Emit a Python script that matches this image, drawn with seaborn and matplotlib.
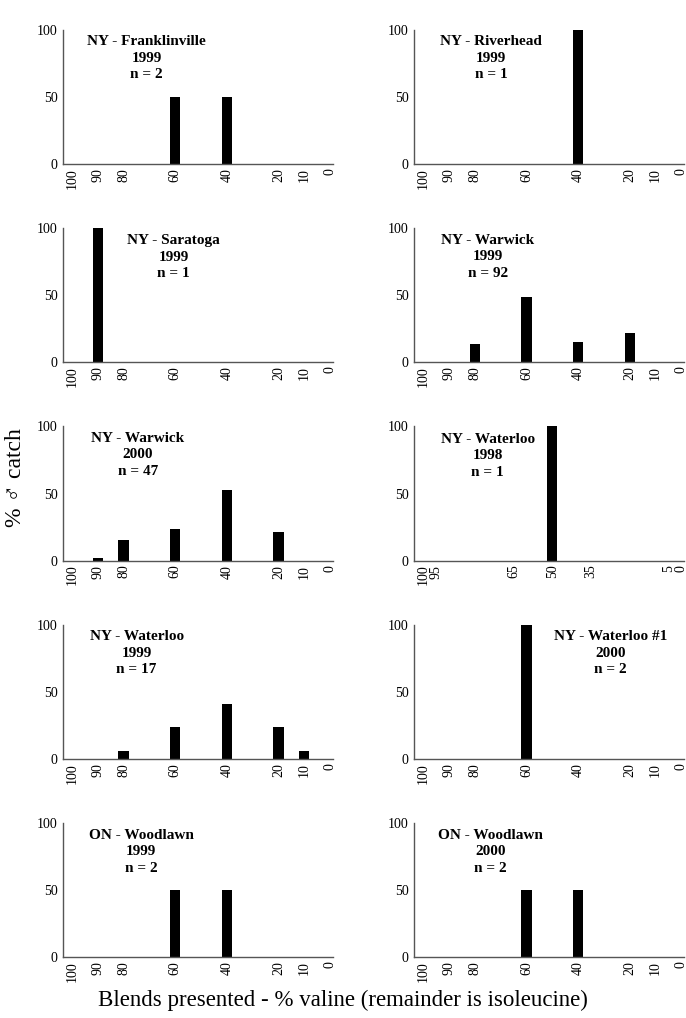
import pandas as pd
import seaborn as sns
import matplotlib.pyplot as plt

# Blends presented (% valine)
blends = [100, 90, 80, 60, 40, 20, 10, 0]
blends_1998 = [100, 95, 65, 50, 35, 5, 0]

# % male catch per blend, one list per site/year
franklinville_1999 = [0, 0, 0, 50, 50, 0, 0, 0]
riverhead_1999 = [0, 0, 0, 0, 100, 0, 0, 0]
saratoga_1999 = [0, 100, 0, 0, 0, 0, 0, 0]
warwick_1999 = [0, 0, 14, 49, 15, 22, 0, 0]
warwick_2000 = [0, 2, 15, 23.5, 53, 21.5, 0, 0]
waterloo_1998 = [0, 0, 0, 100, 0, 0, 0]
waterloo_1999 = [0, 0, 6, 23.5, 41, 23.5, 6, 0]
waterloo1_2000 = [0, 0, 0, 100, 0, 0, 0, 0]
woodlawn_1999 = [0, 0, 0, 50, 50, 0, 0, 0]
woodlawn_2000 = [0, 0, 0, 50, 50, 0, 0, 0]

titles = [
    "NY - Franklinville\n1999\nn = 2", "NY - Riverhead\n1999\nn = 1",
    "NY - Saratoga\n1999\nn = 1", "NY - Warwick\n1999\nn = 92",
    "NY - Warwick\n2000\nn = 47", "NY - Waterloo\n1998\nn = 1",
    "NY - Waterloo\n1999\nn = 17", "NY - Waterloo #1\n2000\nn = 2",
    "ON - Woodlawn\n1999\nn = 2", "ON - Woodlawn\n2000\nn = 2",
]

panels = [
    (blends, franklinville_1999), (blends, riverhead_1999),
    (blends, saratoga_1999), (blends, warwick_1999),
    (blends, warwick_2000), (blends_1998, waterloo_1998),
    (blends, waterloo_1999), (blends, waterloo1_2000),
    (blends, woodlawn_1999), (blends, woodlawn_2000),
]

# where the site label sits (axes fraction, centre x / top line y)
label_pos = [
    (0.31, 0.96), (0.285, 0.96),
    (0.41, 0.955), (0.273, 0.96),
    (0.278, 0.96), (0.272, 0.955),
    (0.273, 0.96), (0.727, 0.96),
    (0.29, 0.955), (0.283, 0.955),
]

sns.set_style("white")
plt.rcParams['font.family'] = ['Liberation Serif', 'DejaVu Serif']
plt.rcParams['text.color'] = 'black'
plt.rcParams['xtick.color'] = 'black'
plt.rcParams['ytick.color'] = 'black'

fig, axes = plt.subplots(5, 2, figsize=(6.86, 10.18), dpi=100)
fig.subplots_adjust(left=0.0918, right=0.997, top=0.9705, bottom=0.0599,
                    wspace=0.302, hspace=0.478)

for ax, (x, y), title, (tx, ty) in zip(axes.flat, panels, titles, label_pos):
    df = pd.DataFrame({"blend": x, "pct": y})
    min_gap = min(abs(a - b) for a, b in zip(x[:-1], x[1:]))
    sns.barplot(data=df, x="blend", y="pct", native_scale=True, color="black",
                width=4.0 / min_gap, errorbar=None, linewidth=0, ax=ax)
    ax.set_xlim(103.5, -1)
    ax.set_ylim(0, 100)
    ax.set_xticks(x)
    ax.set_xticklabels([str(v) for v in x], rotation=90, fontsize=10)
    ax.set_yticks([0, 50, 100])
    ax.set_yticklabels(["0", "50", "100"], fontsize=10)
    ax.tick_params(axis="x", length=0, pad=3)
    ax.tick_params(axis="y", length=3, width=0.8, color="#555555", pad=1, direction="out")
    ax.set_xlabel("")
    ax.set_ylabel("")
    for side in ["top", "right"]:
        ax.spines[side].set_visible(False)
    for side in ["left", "bottom"]:
        ax.spines[side].set_color("#555555")
        ax.spines[side].set_linewidth(1.0)
    ax.text(tx, ty, title, transform=ax.transAxes, ha="center", va="top",
            fontsize=11, fontweight="bold", linespacing=1.35, color="black")

fig.text(0.5, 0.0177, "Blends presented - % valine (remainder is isoleucine)",
         ha="center", va="center", fontsize=16.5, color="black")
fig.text(0.022, 0.5305, "% \u2642 catch", rotation=90, ha="center", va="center",
         fontsize=17, color="black")

plt.savefig("out.png")
